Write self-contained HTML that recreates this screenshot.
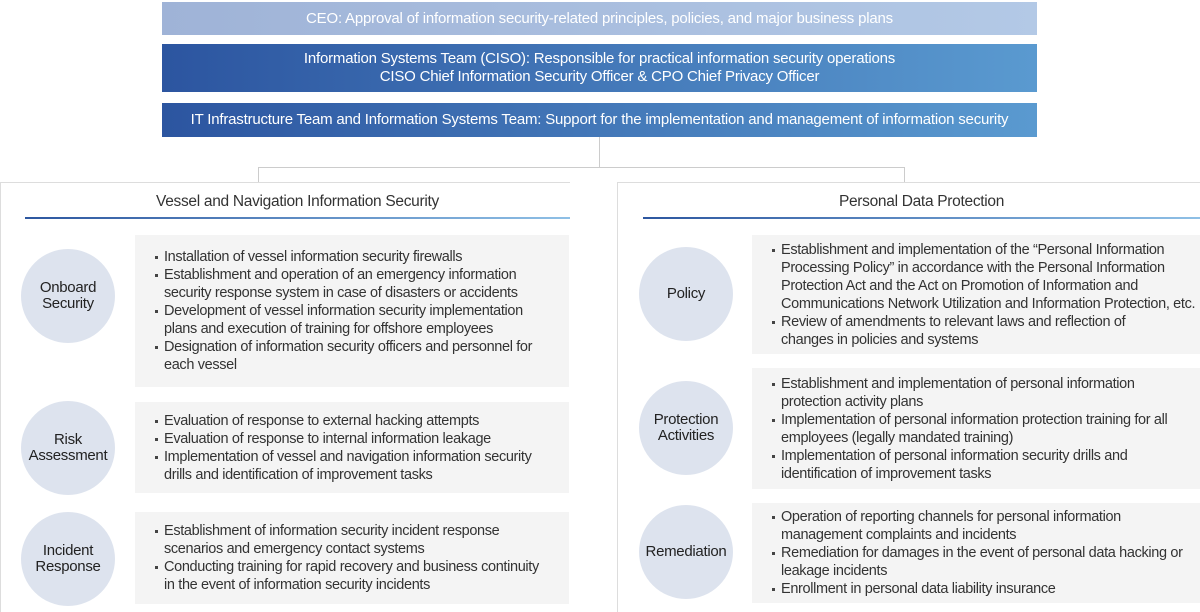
<!DOCTYPE html>
<html><head><meta charset="utf-8"><style>
*{margin:0;padding:0;box-sizing:border-box}
body{width:1200px;height:606px;background:#fff;position:relative;overflow:hidden;font-family:"Liberation Sans",sans-serif;color:#333}
.a{position:absolute}
.top{position:absolute;left:162px;width:875px;color:#fff;text-align:center;font-size:15px;letter-spacing:-0.2px;line-height:18px;display:flex;align-items:center;justify-content:center;flex-direction:column}
.panel{position:absolute;top:182px;height:430px;border-top:1px solid #ddd;border-left:1px solid #ddd}
.h{position:absolute;font-size:15.5px;letter-spacing:-0.3px;color:#333;text-align:center}
.hl{position:absolute;height:2px;background:linear-gradient(90deg,#2d57a0,#8fc0e6)}
.c{position:absolute;width:94px;height:94px;border-radius:50%;background:#dde3ee;display:flex;align-items:center;justify-content:center;text-align:center;font-size:15px;line-height:16px;letter-spacing:-0.3px;color:#222}
.b{position:absolute;background:#f4f4f4;font-size:14.5px;line-height:18px;letter-spacing:-0.35px;color:#333;padding-left:20px;display:flex;flex-direction:column;justify-content:center}
.b div{position:relative;padding-left:9px}
.b div:before{content:"";position:absolute;left:0;top:8px;width:3px;height:3px;background:#444}
</style></head><body>
<div class="top" style="top:2px;height:33px;background:linear-gradient(90deg,#9fb3d7,#b3c9e6)">CEO: Approval of information security-related principles, policies, and major business plans</div>
<div class="top" style="top:44px;height:48px;background:linear-gradient(90deg,#2c55a0,#5a9ad0)"><span>Information Systems Team (CISO): Responsible for practical information security operations</span><span>CISO Chief Information Security Officer &amp; CPO Chief Privacy Officer</span></div>
<div class="top" style="top:103px;height:34px;background:linear-gradient(90deg,#2c55a0,#5a9ad0)">IT Infrastructure Team and Information Systems Team: Support for the implementation and management of information security</div>
<div class="a" style="left:599px;top:137px;width:1px;height:30px;background:#ccc"></div>
<div class="a" style="left:258px;top:167px;width:647px;height:15px;border:1px solid #ccc;border-bottom:none"></div>
<div class="panel" style="left:0;width:570px;background:#fff"></div>
<div class="panel" style="left:617px;width:590px;background:#fff"></div>
<div class="h" style="left:25px;width:545px;top:193px">Vessel and Navigation Information Security</div>
<div class="hl" style="left:25px;width:545px;top:217px"></div>
<div class="h" style="left:643px;width:557px;top:193px">Personal Data Protection</div>
<div class="hl" style="left:643px;width:557px;top:217px"></div>

<div class="c" style="left:21px;top:249px">Onboard<br>Security</div>
<div class="b" style="left:135px;top:235px;width:434px;height:152px">
<div>Installation of vessel information security firewalls</div>
<div>Establishment and operation of an emergency information<br>security response system in case of disasters or accidents</div>
<div>Development of vessel information security implementation<br>plans and execution of training for offshore employees</div>
<div>Designation of information security officers and personnel for<br>each vessel</div></div>

<div class="c" style="left:21px;top:401px">Risk<br>Assessment</div>
<div class="b" style="left:135px;top:402px;width:434px;height:91px">
<div>Evaluation of response to external hacking attempts</div>
<div>Evaluation of response to internal information leakage</div>
<div>Implementation of vessel and navigation information security<br>drills and identification of improvement tasks</div></div>

<div class="c" style="left:21px;top:512px">Incident<br>Response</div>
<div class="b" style="left:135px;top:512px;width:434px;height:92px">
<div>Establishment of information security incident response<br>scenarios and emergency contact systems</div>
<div>Conducting training for rapid recovery and business continuity<br>in the event of information security incidents</div></div>

<div class="c" style="left:639px;top:247px">Policy</div>
<div class="b" style="left:752px;top:235px;width:448px;height:119px">
<div>Establishment and implementation of the “Personal Information<br>Processing Policy” in accordance with the Personal Information<br>Protection Act and the Act on Promotion of Information and<br>Communications Network Utilization and Information Protection, etc.</div>
<div>Review of amendments to relevant laws and reflection of<br>changes in policies and systems</div></div>

<div class="c" style="left:639px;top:381px">Protection<br>Activities</div>
<div class="b" style="left:752px;top:368px;width:448px;height:121px">
<div>Establishment and implementation of personal information<br>protection activity plans</div>
<div>Implementation of personal information protection training for all<br>employees (legally mandated training)</div>
<div>Implementation of personal information security drills and<br>identification of improvement tasks</div></div>

<div class="c" style="left:639px;top:505px">Remediation</div>
<div class="b" style="left:752px;top:503px;width:448px;height:100px">
<div>Operation of reporting channels for personal information<br>management complaints and incidents</div>
<div>Remediation for damages in the event of personal data hacking or<br>leakage incidents</div>
<div>Enrollment in personal data liability insurance</div></div>
</body></html>
